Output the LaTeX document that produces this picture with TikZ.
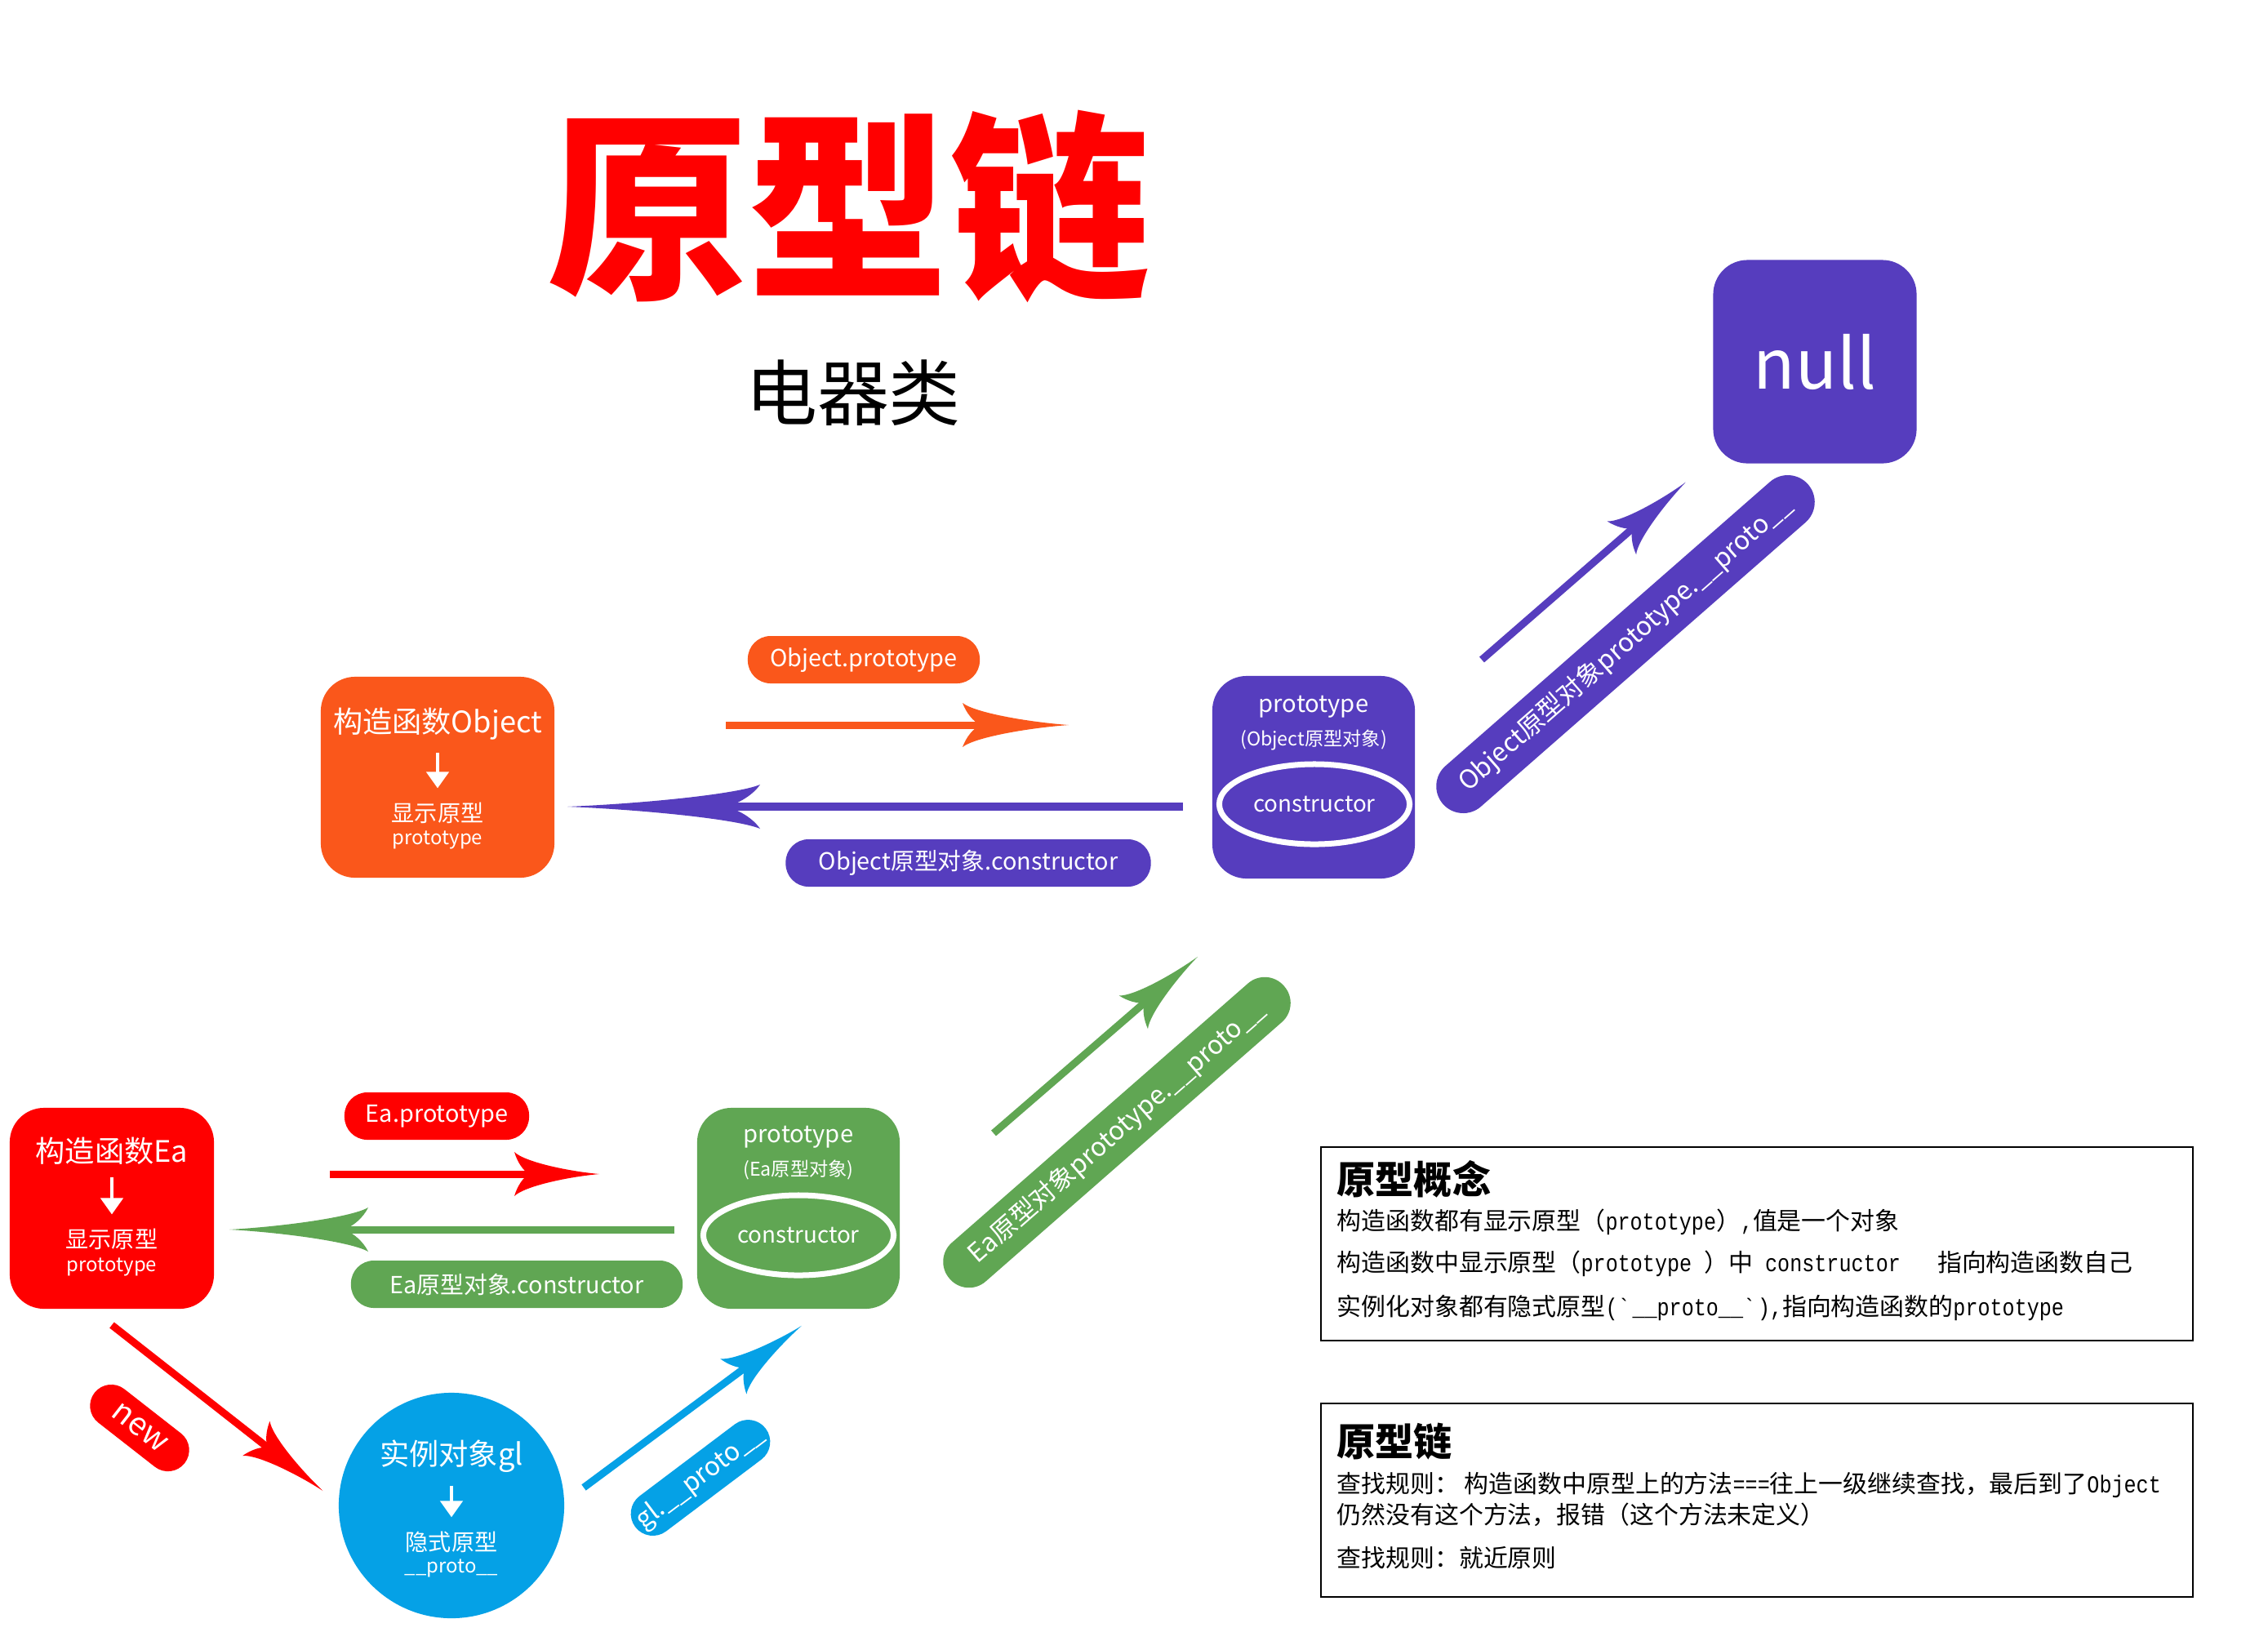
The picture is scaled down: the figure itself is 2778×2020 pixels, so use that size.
\documentclass[tikz,border=0pt]{standalone}
\usepackage{fontspec}
\setmainfont{Noto Sans CJK SC}
\newfontfamily\halfmono{Liberation Mono}[FakeStretch=0.84]
\usetikzlibrary{decorations.markings, arrows.meta, shapes.geometric, calc}
\definecolor{cOrange}{HTML}{FA571B}
\definecolor{cPurple}{HTML}{563DBE}
\definecolor{cRed}{HTML}{FF0000}
\definecolor{cGreen}{HTML}{60A653}
\definecolor{cBlue}{HTML}{05A1E6}
\begin{document}
\begin{tikzpicture}[x=0.01cm, y=-0.01cm,
  box/.style={rounded corners=0.42cm, minimum width=2.48cm, minimum height=2.48cm, inner sep=0pt},
  wt/.style={text=white, inner sep=0pt},
  pill/.style={rounded corners=0.28cm, minimum height=0.58cm, inner sep=0pt, text=white, font=\fontsize{8.2}{9}\selectfont},
  dpill/.style={rounded corners=0.31cm, minimum height=0.63cm, inner sep=0pt, text=white, font=\fontsize{9}{10}\selectfont},
  hdtext/.style={wt, font=\fontsize{10.3}{12}\selectfont},
  subtext/.style={wt, font=\fontsize{8}{9}\selectfont},
  smtext/.style={wt, font=\fontsize{6.8}{8}\selectfont},
  ctor/.style={ellipse, draw=white, line width=0.07cm, minimum width=2.33cm, minimum height=0.98cm, inner sep=0pt, text=white, font=\fontsize{7.9}{9}\selectfont},
  downarr/.style={white, line width=0.045cm, -{Triangle[length=0.2cm, width=0.27cm]}},
  tbline/.style={anchor=west, inner sep=0pt, font=\fontsize{8.5}{10}\selectfont},
  tbtitle/.style={anchor=west, inner sep=0pt, font=\fontsize{13.4}{15}\selectfont\bfseries},
  fancy/.style n args={5}{draw=#1, line width=#5, postaction={decorate, decoration={markings, mark=at position 1 with {\fill[#1] (#2,0) .. controls ({0.55*#2},{0.13*#4}) and ({-0.3*#3},{0.55*#4}) .. (-#3,#4) .. controls ({-0.8*#3},{0.55*#4}) and ({-0.4*#3},{0.15*#4}) .. (0,0) .. controls ({-0.4*#3},{-0.15*#4}) and ({-0.8*#3},{-0.55*#4}) .. (-#3,-#4) .. controls ({-0.3*#3},{-0.55*#4}) and ({0.55*#2},{-0.13*#4}) .. cycle;}}}}
]
\useasboundingbox (0,0) rectangle (2778,2020);
\fill[white] (0,0) rectangle (2778,2020);

% title
\node[inner sep=0pt, text=cRed, font=\fontsize{70}{80}\selectfont\bfseries] (title) at (1040,253) {原型链};
\node[inner sep=0pt, font=\fontsize{25}{30}\selectfont] (subtitle) at (1045,481) {电器类};

% Object constructor
\node[box, fill=cOrange, minimum width=2.86cm, minimum height=2.46cm] (objc) at (536,952) {};
\node[hdtext] (objchead) at (536,887) {构造函数Object};
\node[subtext] (objcdisp) at (536,996) {显示原型};
\node[smtext] (objcproto) at (536,1029) {prototype};
\draw[downarr, shorten <=0.15cm, shorten >=0.17cm] (objchead) -- (objcdisp);

% Object prototype
\node[box, fill=cPurple, minimum height=2.48cm] (objp) at (1609,952) {};
\node[wt, font=\fontsize{8.3}{9}\selectfont] (objphead) at (1609,866) {prototype};
\node[wt, font=\fontsize{6.6}{8}\selectfont] (objpsub) at (1609,906) {(Object原型对象)};
\node[ctor] (objpctor) at (1610,985) {constructor};

% null
\node[box, fill=cPurple, minimum width=2.49cm, minimum height=2.49cm, text=white, font=\fontsize{24}{28}\selectfont] (nullbox) at (2223,443) {null};

% labels upper
\node[pill, fill=cOrange, minimum width=2.84cm] (lblop) at (1058,808) {Object.prototype};
\node[pill, fill=cPurple, minimum width=4.47cm] (lblopc) at (1186,1057) {Object原型对象.constructor};
\node[dpill, fill=cPurple, minimum width=5.94cm, minimum height=0.66cm, rounded corners=0.33cm, rotate=41.2] (lblopp) at (1991,789) {Object原型对象prototype.\_\_proto\_\_};

% Ea constructor
\node[box, fill=cRed, minimum width=2.50cm, minimum height=2.46cm] (eac) at (137,1480) {};
\node[hdtext] (eachead) at (137,1410) {构造函数Ea};
\node[subtext] (eacdisp) at (137,1518) {显示原型};
\node[smtext] (eacproto) at (137,1552) {prototype};
\draw[downarr, shorten <=0.15cm, shorten >=0.17cm] (eachead) -- (eacdisp);

% Ea prototype
\node[box, fill=cGreen, minimum height=2.46cm] (eap) at (978,1480) {};
\node[wt, font=\fontsize{8.3}{9}\selectfont] (eaphead) at (978,1393) {prototype};
\node[wt, font=\fontsize{6.6}{8}\selectfont] (eapsub) at (978,1433) {(Ea原型对象)};
\node[ctor] (eapctor) at (978,1513) {constructor};

% instance gl
\node[circle, fill=cBlue, minimum size=2.76cm, inner sep=0pt] (gl) at (553,1844) {};
\node[hdtext] (glhead) at (553,1784) {实例对象gl};
\node[subtext] (gldisp) at (553,1889) {隐式原型};
\node[smtext] (glproto) at (553,1921) {\_\_proto\_\_};
\draw[downarr, shorten <=0.15cm, shorten >=0.17cm] (glhead) -- (gldisp);

% labels lower
\node[pill, fill=cRed, minimum width=2.26cm] (lblep) at (535,1367) {Ea.prototype};
\node[pill, fill=cGreen, minimum width=4.06cm] (lblepc) at (633,1573) {Ea原型对象.constructor};
\node[dpill, fill=cGreen, minimum width=5.44cm, rotate=41.2] (lblepp) at (1368,1387) {Ea原型对象prototype.\_\_proto\_\_};
\node[dpill, fill=cRed, minimum width=1.40cm, minimum height=0.52cm, rounded corners=0.26cm, rotate=-38, font=\fontsize{11}{12}\selectfont] (lblnew) at (171,1749) {new};
\node[dpill, fill=cBlue, minimum width=2.0cm, minimum height=0.54cm, rounded corners=0.27cm, rotate=37] (lblgl) at (858,1810) {gl.\_\_proto\_\_};

% arrows
\coordinate (a1s) at (889,888);  \coordinate (a1e) at (1201,888);
\coordinate (a2s) at (1449,988); \coordinate (a2e) at (889,988);
\coordinate (a3s) at (1815,808); \coordinate (a3e) at (2000,647);
\coordinate (a4s) at (1217,1388); \coordinate (a4e) at (1402,1228);
\coordinate (a5s) at (404,1438); \coordinate (a5e) at (648,1438);
\coordinate (a6s) at (826,1506); \coordinate (a6e) at (421,1506);
\coordinate (a7s) at (137,1623); \coordinate (a7e) at (328,1773);
\coordinate (a8s) at (715,1822); \coordinate (a8e) at (913,1675);
\draw[fancy={cOrange}{108}{22}{27}{0.09cm}] (a1s) -- (a1e);
\draw[fancy={cPurple}{194}{42}{27}{0.10cm}] (a2s) -- (a2e);
\draw[fancy={cPurple}{86}{18}{27}{0.09cm}] (a3s) -- (a3e);
\draw[fancy={cGreen}{86}{18}{27}{0.09cm}] (a4s) -- (a4e);
\draw[fancy={cRed}{86}{18}{27}{0.09cm}] (a5s) -- (a5e);
\draw[fancy={cGreen}{140}{30}{27}{0.09cm}] (a6s) -- (a6e);
\draw[fancy={cRed}{86}{18}{27}{0.09cm}] (a7s) -- (a7e);
\draw[fancy={cBlue}{86}{18}{27}{0.09cm}] (a8s) -- (a8e);

% text boxes
\node[draw=black, line width=0.02cm, minimum width=10.68cm, minimum height=2.37cm, inner sep=0pt] (tb1) at (2152,1523.5) {};
\node[tbtitle] (tb1t) at (1637,1444) {原型概念};
\node[tbline] (tb1a) at (1637,1497) {构造函数都有显示原型（{\halfmono prototype}）{\halfmono ,}值是一个对象};
\node[tbline] (tb1b) at (1637,1548) {构造函数中显示原型（{\halfmono prototype\ }）中{\halfmono\ constructor\ \ \ }指向构造函数自己};
\node[tbline] (tb1c) at (1637,1602) {实例化对象都有隐式原型{\halfmono (\textasciigrave\_\_proto\_\_\textasciigrave),}指向构造函数的{\halfmono prototype}};

\node[draw=black, line width=0.02cm, minimum width=10.68cm, minimum height=2.37cm, inner sep=0pt] (tb2) at (2152,1837.5) {};
\node[tbtitle] (tb2t) at (1637,1766) {原型链};
\node[tbline] (tb2a) at (1637,1819) {查找规则：\ 构造函数中原型上的方法{\halfmono ===}往上一级继续查找，最后到了{\halfmono Object}};
\node[tbline] (tb2b) at (1637,1855) {仍然没有这个方法，报错（这个方法未定义）};
\node[tbline] (tb2c) at (1637,1908) {查找规则：就近原则};
\end{tikzpicture}
\end{document}
